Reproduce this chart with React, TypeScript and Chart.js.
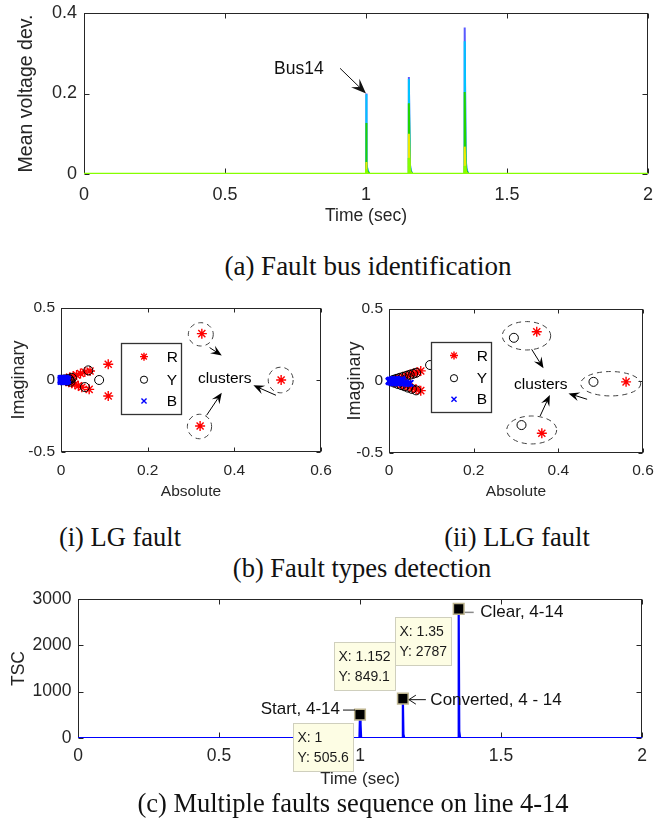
import React, { useEffect, useRef } from 'react';
import { Chart, registerables } from 'chart.js';

Chart.register(...registerables);

const SANS = '"Liberation Sans", Arial, Helvetica, sans-serif';
const SERIF = '"Liberation Serif", "Times New Roman", Times, serif';
const AXIS_COLOR = '#262626';

// ---------------- (a) Fault bus identification ----------------
const A_X_RANGE = [0, 2];
const A_Y_RANGE = [0, 0.4];
const FAULT_TIMES = [1.0, 1.152, 1.35];
const SPIKE_TAIL_DT = [0.003, 0.006, 0.012];
const SPIKE_TAIL_FRAC = [0.12, 0.04, 0];
const BUS_NAMES = ['Bus14', 'Bus13', 'Bus12', 'Bus11', 'Bus10'];
const BUS_COLORS = ['#5a5aff', '#00c4ff', '#22d400', '#eaea00', '#86ff00'];
const BUS14_PEAKS = [0.2, 0.241, 0.364];
const BUS13_PEAKS = [0.198, 0.236, 0.33];
const BUS12_PEAKS = [0.127, 0.176, 0.204];
const BUS11_PEAKS = [0.03, 0.1, 0.068];
const BUS10_PEAKS = [0.012, 0.04, 0.02];
const BUS_PEAKS = [BUS14_PEAKS, BUS13_PEAKS, BUS12_PEAKS, BUS11_PEAKS, BUS10_PEAKS];
const BUS14_TEXT = { text: 'Bus14', x: 0.762, y: 0.261 };
const BUS14_ARROW = [0.908, 0.2626, 1.0, 0.2];

// ---------------- (b) Fault types detection ----------------
const PHASE_NAMES = ['R', 'Y', 'B'];
const LG_R = [
  [0.325, 0.322], [0.321, -0.319], [0.508, 0.0],
  [0.109, 0.109], [0.109, -0.111], [0.067, 0.063], [0.065, -0.065],
  [0.055, 0.055], [0.048, -0.05], [0.045, 0.045], [0.04, -0.04], [0.036, 0.035],
  [0.032, -0.03], [0.028, 0.026], [0.025, -0.022], [0.02, 0.017], [0.018, -0.015],
  [0.013, 0.01], [0.012, -0.008],
];
const LG_Y = [
  [0.063, 0.067], [0.088, 0.0], [0.055, -0.049], [0.025, 0.015], [0.022, -0.012],
  [0.018, 0.008], [0.015, -0.006], [0.012, 0.003], [0.02, 0.0], [0.01, -0.002], [0.008, 0.004],
];
const LG_B = [
  [0.0, 0.0], [0.002, 0.008], [0.003, -0.008], [0.005, 0.012], [0.006, -0.012], [0.008, 0.005],
  [0.009, -0.004], [0.011, 0.01], [0.012, -0.01], [0.013, 0.0], [0.004, 0.0], [0.007, 0.0],
  [0.0, 0.01], [0.0, -0.01], [0.015, 0.006], [0.015, -0.006], [0.002, 0.003], [0.004, -0.003],
  [0.006, 0.004], [0.008, -0.002], [0.01, 0.002], [0.012, 0.006], [0.014, -0.003], [0.001, -0.004],
  [0.003, 0.011], [0.005, -0.011], [0.009, 0.012], [0.01, -0.012],
];
const LLG_R = [
  [0.349, 0.342], [0.56, -0.006], [0.361, -0.363], [0.075, 0.07], [0.075, -0.067],
  [0.066, 0.06], [0.064, -0.058], [0.058, 0.052], [0.055, -0.05], [0.05, 0.045], [0.047, -0.043],
  [0.042, 0.037], [0.038, -0.034], [0.033, 0.029], [0.03, -0.026], [0.025, 0.021], [0.021, -0.018],
  [0.016, 0.013], [0.012, -0.009],
];
const LLG_Y = [
  [0.295, 0.3], [0.483, -0.006], [0.313, -0.306], [0.097, 0.111], [0.064, 0.057], [0.064, -0.065],
  [0.057, 0.05], [0.054, -0.055], [0.049, 0.043], [0.045, -0.046], [0.041, 0.036], [0.037, -0.037],
  [0.033, 0.029], [0.029, -0.029], [0.025, 0.022], [0.021, -0.021], [0.017, 0.015], [0.013, -0.012],
  [0.01, 0.008], [0.007, -0.004],
];
const LLG_B = [
  [0.0, 0.0], [0.003, 0.006], [0.004, -0.007], [0.008, 0.01], [0.009, -0.011], [0.013, 0.012],
  [0.014, -0.013], [0.018, 0.01], [0.02, -0.014], [0.024, 0.006], [0.028, -0.01], [0.032, 0.002],
  [0.036, -0.012], [0.04, -0.016], [0.045, -0.018], [0.05, -0.016], [0.03, 0.012], [0.01, 0.0], [0.02, 0.0],
  [0.002, 0.002], [0.005, -0.002], [0.006, 0.004], [0.011, 0.005], [0.012, -0.005], [0.016, 0.004],
  [0.017, -0.006], [0.022, 0.0], [0.026, -0.004], [0.001, -0.005], [0.007, 0.0],
];
// rings: [cx, cy, rx, ry] in data units
const LG_RINGS = [[0.3226, 0.317, 0.0288, 0.081], [0.507, 0.0, 0.0288, 0.089], [0.3196, -0.323, 0.028, 0.085]];
const LLG_RINGS = [[0.3248, 0.314, 0.0572, 0.0986], [0.5237, -0.019, 0.0709, 0.0847], [0.3371, -0.34, 0.059, 0.097]];
// arrows: [x1, y1, x2(tip), y2(tip)]
const LG_ARROWS = [[0.343, 0.225, 0.371, 0.17], [0.336, -0.245, 0.371, -0.088], [0.496, -0.106, 0.444, -0.037]];
const LLG_ARROWS = [[0.337, 0.22, 0.365, 0.088], [0.357, -0.243, 0.38, -0.097], [0.468, -0.127, 0.424, -0.086]];
const LG_CLUSTER_TEXT = [0.378, 0.006];
const LLG_CLUSTER_TEXT = [0.3586, -0.023];
// legend box [x0, yTop, x1, yBottom] in data units
const LG_LEGEND_BOX = [0.1378, 0.26, 0.277, -0.233];
const LLG_LEGEND_BOX = [0.0985, 0.273, 0.2417, -0.217];
const LEGEND_ROWS = [0.185, 0.51, 0.81];

// ---------------- (c) Multiple faults sequence ----------------
const TSC_TIME = [0, 0.998, 1.0, 1.002, 1.004, 1.15, 1.152, 1.154, 1.157, 1.348, 1.35, 1.352, 1.355, 2];
const TSC_VALUE = [0, 0, 505.6, 300, 0, 0, 849.1, 80, 0, 0, 2787, 150, 0, 0];
const TIP_X = [1, 1.152, 1.35];
const TIP_Y = [505.6, 849.1, 2787];
const TIP_LABELS = ['Start, 4-14', 'Converted, 4 - 14', 'Clear, 4-14'];
const TIP_BOX_SIDE = ['below', 'above', 'below'];

// ---------------- helpers ----------------
function fixAxis(size: number, horizontal: boolean) {
  return (s: any) => {
    if (horizontal) s.height = size;
    else s.width = size;
    s.paddingLeft = 0;
    s.paddingRight = 0;
    s.paddingTop = 0;
    s.paddingBottom = 0;
  };
}

function linearAxis(o: any) {
  return {
    type: 'linear',
    min: o.min,
    max: o.max,
    grid: { display: false, drawTicks: false },
    border: { display: false },
    ticks: {
      stepSize: o.step,
      padding: o.tickPad,
      maxRotation: 0,
      autoSkip: false,
      color: AXIS_COLOR,
      font: { family: SANS, size: o.fontSize },
      callback: (v: any) => String(Number(Number(v).toFixed(4))),
    },
    title: {
      display: true,
      text: o.title,
      color: AXIS_COLOR,
      font: { family: SANS, size: o.titleSize },
      padding: o.horizontal ? { top: 0, bottom: o.titlePad } : { top: o.titlePad, bottom: 0 },
    },
    afterFit: fixAxis(o.size, o.horizontal),
  };
}

function framePlugin(tickLen: number) {
  return {
    id: 'matlabFrame',
    beforeDatasetsDraw(chart: any) {
      const { ctx, chartArea: a, scales } = chart;
      const xs = scales.x;
      const ys = scales.y;
      const L = Math.round(a.left) + 0.5;
      const R = Math.round(a.right) - 0.5;
      const T = Math.round(a.top) + 0.5;
      const B = Math.round(a.bottom) - 0.5;
      ctx.save();
      ctx.strokeStyle = AXIS_COLOR;
      ctx.lineWidth = 1;
      ctx.strokeRect(L, T, R - L, B - T);
      ctx.beginPath();
      xs.ticks.forEach((t: any) => {
        const p = Math.round(xs.getPixelForValue(t.value)) + 0.5;
        ctx.moveTo(p, B);
        ctx.lineTo(p, B - tickLen);
        ctx.moveTo(p, T);
        ctx.lineTo(p, T + tickLen);
      });
      ys.ticks.forEach((t: any) => {
        const p = Math.round(ys.getPixelForValue(t.value)) + 0.5;
        ctx.moveTo(L, p);
        ctx.lineTo(L + tickLen, p);
        ctx.moveTo(R, p);
        ctx.lineTo(R - tickLen, p);
      });
      ctx.stroke();
      ctx.restore();
    },
  };
}

function drawArrow(ctx: any, x1: number, y1: number, x2: number, y2: number, len: number, half: number) {
  const ang = Math.atan2(y2 - y1, x2 - x1);
  const c = Math.cos(ang);
  const s = Math.sin(ang);
  ctx.beginPath();
  ctx.moveTo(x1, y1);
  ctx.lineTo(x2 - c * len * 0.6, y2 - s * len * 0.6);
  ctx.stroke();
  const bx = x2 - c * len;
  const by = y2 - s * len;
  ctx.beginPath();
  ctx.moveTo(x2, y2);
  ctx.lineTo(bx - s * half, by + c * half);
  ctx.lineTo(x2 - c * len * 0.62, y2 - s * len * 0.62);
  ctx.lineTo(bx + s * half, by - c * half);
  ctx.closePath();
  ctx.fill();
}

function drawMarker(ctx: any, style: string, x: number, y: number, r: number, color: string, lw: number) {
  ctx.save();
  ctx.strokeStyle = color;
  ctx.lineWidth = lw;
  ctx.beginPath();
  if (style === 'star') {
    for (let k = 0; k < 4; k++) {
      const a = (k * Math.PI) / 4;
      ctx.moveTo(x - Math.cos(a) * r, y - Math.sin(a) * r);
      ctx.lineTo(x + Math.cos(a) * r, y + Math.sin(a) * r);
    }
  } else if (style === 'circle') {
    ctx.arc(x, y, r, 0, Math.PI * 2);
  } else {
    const d = r * Math.SQRT1_2;
    ctx.moveTo(x - d, y - d);
    ctx.lineTo(x + d, y + d);
    ctx.moveTo(x - d, y + d);
    ctx.lineTo(x + d, y - d);
  }
  ctx.stroke();
  ctx.restore();
}

// ---------------- chart configs ----------------
function spikeSeries(peaks: number[]) {
  const pts: any[] = [{ x: A_X_RANGE[0], y: 0 }];
  FAULT_TIMES.forEach((t, i) => {
    pts.push({ x: t, y: 0 }, { x: t, y: peaks[i] });
    SPIKE_TAIL_DT.forEach((dt, k) => pts.push({ x: t + dt, y: peaks[i] * SPIKE_TAIL_FRAC[k] }));
  });
  pts.push({ x: A_X_RANGE[1], y: 0 });
  return pts;
}

function topConfig() {
  const annot = {
    id: 'busAnnot',
    afterDraw(chart: any) {
      const { ctx, scales } = chart;
      const xs = scales.x;
      const ys = scales.y;
      ctx.save();
      ctx.fillStyle = '#111';
      ctx.strokeStyle = '#111';
      ctx.lineWidth = 1;
      ctx.font = `17.5px ${SANS}`;
      ctx.textAlign = 'center';
      ctx.textBaseline = 'middle';
      ctx.fillText(BUS14_TEXT.text, xs.getPixelForValue(BUS14_TEXT.x), ys.getPixelForValue(BUS14_TEXT.y));
      drawArrow(
        ctx,
        xs.getPixelForValue(BUS14_ARROW[0]), ys.getPixelForValue(BUS14_ARROW[1]),
        xs.getPixelForValue(BUS14_ARROW[2]), ys.getPixelForValue(BUS14_ARROW[3]),
        15, 6,
      );
      ctx.restore();
    },
  };
  return {
    type: 'line',
    data: {
      datasets: BUS_NAMES.map((name, i) => ({
        label: name,
        data: spikeSeries(BUS_PEAKS[i]),
        borderColor: BUS_COLORS[i],
        backgroundColor: BUS_COLORS[i],
        borderWidth: i === BUS_NAMES.length - 1 ? 2.5 : 2,
        pointRadius: 0,
        tension: 0,
        fill: false,
        order: BUS_NAMES.length - 1 - i,
      })),
    },
    options: {
      responsive: false,
      animation: false,
      events: [],
      layout: { padding: { left: 0, top: 13, right: 22, bottom: 0 } },
      plugins: { legend: { display: false }, tooltip: { enabled: false } },
      scales: {
        x: linearAxis({ min: A_X_RANGE[0], max: A_X_RANGE[1], step: 0.5, horizontal: true, size: 66, fontSize: 18, tickPad: 10.5, title: 'Time (sec)', titleSize: 17.5, titlePad: 13.5 }),
        y: linearAxis({ min: A_Y_RANGE[0], max: A_Y_RANGE[1], step: 0.2, horizontal: false, size: 84, fontSize: 18, tickPad: 7, title: 'Mean voltage dev.', titleSize: 19.5, titlePad: 15.3 }),
      },
    },
    plugins: [framePlugin(5), annot],
  };
}

function clusterConfig(spec: any) {
  const styles = [
    { style: 'star', color: '#ff0000', r: 5, lw: 1.4, order: 2 },
    { style: 'circle', color: '#000000', r: 4.5, lw: 1, order: 1 },
    { style: 'crossRot', color: '#0000ff', r: 4.5, lw: 2, order: 0 },
  ];
  const annot = {
    id: 'clusterAnnot',
    afterDraw(chart: any) {
      const { ctx, scales } = chart;
      const xs = scales.x;
      const ys = scales.y;
      const px = (v: number) => xs.getPixelForValue(v);
      const py = (v: number) => ys.getPixelForValue(v);
      ctx.save();
      ctx.strokeStyle = '#404040';
      ctx.lineWidth = 1;
      ctx.setLineDash([5, 4]);
      spec.rings.forEach((rg: number[]) => {
        const cx = px(rg[0]);
        const cy = py(rg[1]);
        const rx = Math.abs(px(rg[0] + rg[2]) - cx);
        const ry = Math.abs(py(rg[1] + rg[3]) - cy);
        ctx.beginPath();
        ctx.ellipse(cx, cy, rx, ry, 0, 0, Math.PI * 2);
        ctx.stroke();
      });
      ctx.setLineDash([]);
      ctx.strokeStyle = '#000';
      ctx.fillStyle = '#000';
      spec.arrows.forEach((a: number[]) => drawArrow(ctx, px(a[0]), py(a[1]), px(a[2]), py(a[3]), 11, 4.5));
      ctx.font = `15.5px ${SANS}`;
      ctx.textAlign = 'center';
      ctx.textBaseline = 'middle';
      ctx.fillText('clusters', px(spec.label[0]), py(spec.label[1]));
      const b = spec.legend;
      const x0 = Math.round(px(b[0])) + 0.5;
      const y0 = Math.round(py(b[1])) + 0.5;
      const x1 = Math.round(px(b[2])) + 0.5;
      const y1 = Math.round(py(b[3])) + 0.5;
      ctx.fillStyle = '#fff';
      ctx.fillRect(x0, y0, x1 - x0, y1 - y0);
      ctx.strokeStyle = '#333';
      ctx.lineWidth = 1.3;
      ctx.strokeRect(x0, y0, x1 - x0, y1 - y0);
      ctx.fillStyle = '#000';
      ctx.textAlign = 'left';
      ctx.font = `15.5px ${SANS}`;
      chart.data.datasets.forEach((ds: any, i: number) => {
        const ry = y0 + (y1 - y0) * LEGEND_ROWS[i];
        drawMarker(ctx, ds.pointStyle, x0 + (x1 - x0) * 0.375, ry, ds.pointRadius * 0.8, ds.borderColor, Math.min(ds.borderWidth, 1.4));
        ctx.fillText(ds.label, x0 + (x1 - x0) * 0.755, ry + 1);
      });
      ctx.restore();
    },
  };
  return {
    type: 'scatter',
    data: {
      datasets: [spec.r, spec.y, spec.b].map((pts: number[][], i: number) => ({
        label: PHASE_NAMES[i],
        data: pts.map((p) => ({ x: p[0], y: p[1] })),
        pointStyle: styles[i].style,
        pointRadius: styles[i].r,
        borderColor: styles[i].color,
        backgroundColor: 'rgba(0,0,0,0)',
        borderWidth: styles[i].lw,
        order: styles[i].order,
        clip: false,
      })),
    },
    options: {
      responsive: false,
      animation: false,
      events: [],
      layout: { padding: { left: 0, top: spec.padTop, right: spec.padRight, bottom: 0 } },
      plugins: { legend: { display: false }, tooltip: { enabled: false } },
      scales: {
        x: linearAxis({ min: 0, max: 0.6, step: 0.2, horizontal: true, size: spec.xSize, fontSize: 15.5, tickPad: spec.xTickPad, title: 'Absolute', titleSize: 15.5, titlePad: 9 }),
        y: linearAxis({ min: -0.5, max: 0.5, step: 0.5, horizontal: false, size: spec.ySize, fontSize: 15.5, tickPad: 6, title: 'Imaginary', titleSize: 18, titlePad: spec.yTitlePad }),
      },
    },
    plugins: [framePlugin(4), annot],
  };
}

function bottomConfig() {
  const annot = {
    id: 'tipAnnot',
    afterDraw(chart: any) {
      const { ctx, scales } = chart;
      const xs = scales.x;
      const ys = scales.y;
      ctx.save();
      TIP_X.forEach((tx, i) => {
        const mx = xs.getPixelForValue(tx);
        const my = ys.getPixelForValue(TIP_Y[i]);
        ctx.font = `17px ${SANS}`;
        ctx.textBaseline = 'middle';
        ctx.fillStyle = '#111';
        ctx.strokeStyle = '#111';
        ctx.lineWidth = 1;
        if (i === 0) {
          ctx.textAlign = 'right';
          ctx.fillText(TIP_LABELS[i], mx - 20, my - 5.5);
          ctx.beginPath();
          ctx.moveTo(mx - 17, my - 4.5);
          ctx.lineTo(mx - 5, my - 4.5);
          ctx.stroke();
        } else if (i === 1) {
          ctx.textAlign = 'left';
          ctx.fillText(TIP_LABELS[i], mx + 27.5, my + 1.5);
          const ay = my + 1;
          ctx.beginPath();
          ctx.moveTo(mx + 23, ay);
          ctx.lineTo(mx + 6, ay);
          ctx.moveTo(mx + 13, ay - 4.5);
          ctx.lineTo(mx + 6, ay);
          ctx.lineTo(mx + 13, ay + 4.5);
          ctx.stroke();
        } else {
          ctx.textAlign = 'left';
          ctx.fillText(TIP_LABELS[i], mx + 21.5, my + 3);
          ctx.strokeStyle = '#8a8a8a';
          ctx.lineWidth = 1.5;
          ctx.beginPath();
          ctx.moveTo(mx + 6, my + 3.5);
          ctx.lineTo(mx + 15, my + 3.5);
          ctx.stroke();
        }
      });
      TIP_X.forEach((tx, i) => {
        const mx = xs.getPixelForValue(tx);
        const my = ys.getPixelForValue(TIP_Y[i]);
        ctx.font = `14px ${SANS}`;
        const l1 = `X: ${tx}`;
        const l2 = `Y: ${TIP_Y[i]}`;
        const w = Math.round(Math.max(ctx.measureText(l1).width, ctx.measureText(l2).width) + 9);
        const h = 48;
        const right = Math.round(mx - 7.5);
        const top = Math.round(TIP_BOX_SIDE[i] === 'below' ? my + 8 : my - 9 - h);
        const left = right - w;
        ctx.fillStyle = '#fdfde4';
        ctx.fillRect(left + 0.5, top + 0.5, w, h);
        ctx.strokeStyle = '#cfcfbd';
        ctx.lineWidth = 1;
        ctx.strokeRect(left + 0.5, top + 0.5, w, h);
        ctx.fillStyle = '#1a1a1a';
        ctx.textAlign = 'left';
        ctx.textBaseline = 'middle';
        ctx.fillText(l1, left + 4.5, top + 15.5);
        ctx.fillText(l2, left + 4.5, top + 35.5);
      });
      ctx.restore();
    },
  };
  return {
    type: 'line',
    data: {
      datasets: [
        {
          label: 'Datatips',
          data: TIP_X.map((x, i) => ({ x, y: TIP_Y[i] })),
          showLine: false,
          pointStyle: 'rect',
          pointRadius: 7.5,
          backgroundColor: '#000000',
          borderColor: '#bdb48e',
          borderWidth: 1.5,
          order: 0,
          clip: false,
        },
        {
          label: 'TSC',
          data: TSC_TIME.map((x, i) => ({ x, y: TSC_VALUE[i] })),
          borderColor: '#0000ff',
          backgroundColor: '#0000ff',
          borderWidth: 2.2,
          pointRadius: 0,
          tension: 0,
          fill: false,
          order: 1,
        },
      ],
    },
    options: {
      responsive: false,
      animation: false,
      events: [],
      layout: { padding: { left: 0, top: 14, right: 28, bottom: 0 } },
      plugins: { legend: { display: false }, tooltip: { enabled: false } },
      scales: {
        x: linearAxis({ min: 0, max: 2, step: 0.5, horizontal: true, size: 57, fontSize: 17.5, tickPad: 7.6, title: 'Time (sec)', titleSize: 17, titlePad: 5.8 }),
        y: linearAxis({ min: 0, max: 3000, step: 1000, horizontal: false, size: 78, fontSize: 17.5, tickPad: 6.5, title: 'TSC', titleSize: 17.5, titlePad: 8.6 }),
      },
    },
    plugins: [framePlugin(5), annot],
  };
}

// ---------------- components ----------------
function ChartBox(props: { left: number; top: number; width: number; height: number; make: () => any }) {
  const ref = useRef<HTMLCanvasElement>(null);
  useEffect(() => {
    const chart = new Chart(ref.current as HTMLCanvasElement, props.make());
    return () => chart.destroy();
  }, []);
  return (
    <div style={{ position: 'absolute', left: props.left, top: props.top, width: props.width, height: props.height }}>
      <canvas ref={ref} width={props.width} height={props.height} style={{ display: 'block', width: props.width, height: props.height }} />
    </div>
  );
}

function Caption(props: { text: string; cx: number; cy: number; size: number }) {
  return (
    <div
      style={{
        position: 'absolute',
        left: props.cx - 260,
        width: 520,
        top: props.cy - 17,
        textAlign: 'center',
        fontFamily: SERIF,
        fontSize: props.size,
        lineHeight: '30px',
        color: '#111',
        whiteSpace: 'nowrap',
      }}
    >
      {props.text}
    </div>
  );
}

export default function App() {
  return (
    <div style={{ position: 'absolute', left: 0, top: 0, width: 670, height: 825, background: '#ffffff', overflow: 'hidden' }}>
      <ChartBox left={0} top={0} width={670} height={240} make={topConfig} />
      <ChartBox
        left={0}
        top={290}
        width={345}
        height={220}
        make={() =>
          clusterConfig({
            r: LG_R, y: LG_Y, b: LG_B, rings: LG_RINGS, arrows: LG_ARROWS, label: LG_CLUSTER_TEXT,
            legend: LG_LEGEND_BOX, padTop: 18, padRight: 24, xSize: 58, xTickPad: 9, ySize: 61, yTitlePad: 8.2,
          })
        }
      />
      <ChartBox
        left={330}
        top={290}
        width={340}
        height={220}
        make={() =>
          clusterConfig({
            r: LLG_R, y: LLG_Y, b: LLG_B, rings: LLG_RINGS, arrows: LLG_ARROWS, label: LLG_CLUSTER_TEXT,
            legend: LLG_LEGEND_BOX, padTop: 19, padRight: 27, xSize: 57, xTickPad: 8, ySize: 59, yTitlePad: 14.2,
          })
        }
      />
      <ChartBox left={0} top={585} width={670} height={210} make={bottomConfig} />
      <Caption text="(a) Fault bus identification" cx={368} cy={268} size={27} />
      <Caption text="(i) LG fault" cx={120} cy={539} size={26.5} />
      <Caption text="(ii) LLG fault" cx={517} cy={539} size={26.5} />
      <Caption text="(b) Fault types detection" cx={362} cy={570} size={26.5} />
      <Caption text="(c) Multiple faults sequence on line 4-14" cx={353} cy={804.5} size={26.5} />
    </div>
  );
}
